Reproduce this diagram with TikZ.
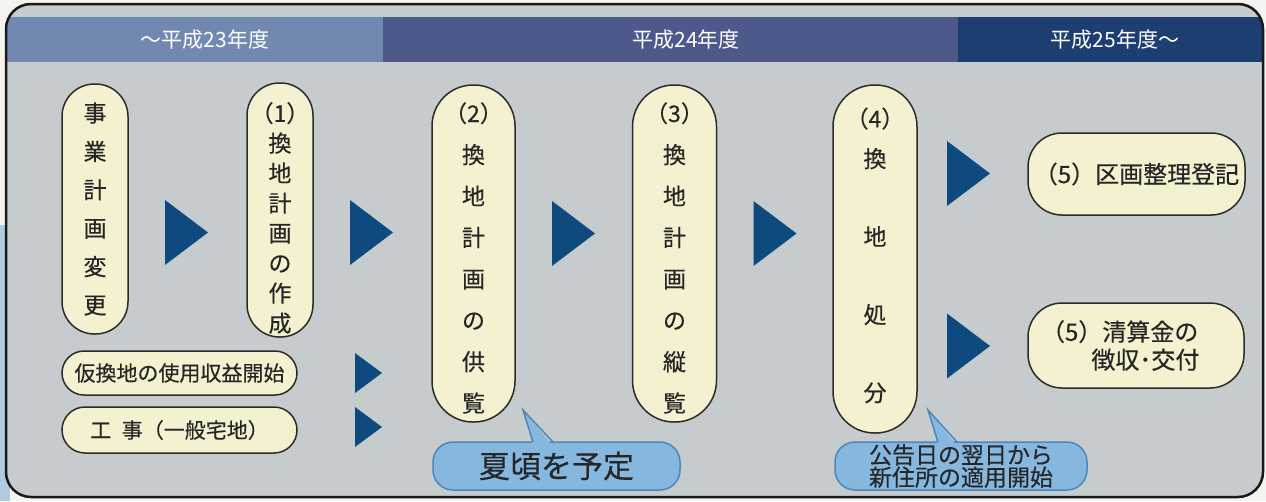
\documentclass[tikz,border=0pt]{standalone}
\usepackage{fontspec}
\newfontfamily\jp{Noto Sans CJK JP}[FakeBold=0.35]
\newfontfamily\jph{Noto Sans CJK JP}
\definecolor{paper}{HTML}{F4F4F1}
\definecolor{leftblue}{HTML}{AFCBDD}
\definecolor{bgC}{HTML}{C6CCCD}
\definecolor{hA}{HTML}{7189B1}
\definecolor{hB}{HTML}{4D598A}
\definecolor{hC}{HTML}{1D3E70}
\definecolor{pillC}{HTML}{F3F1CF}
\definecolor{lineC}{HTML}{2B2B2B}
\definecolor{txtC}{HTML}{262626}
\definecolor{arrowC}{HTML}{0E4A7E}
\definecolor{callC}{HTML}{86B7DE}
\definecolor{callL}{HTML}{4F86BA}
\tikzset{
  frame/.style={draw=black!90, line width=2.5pt},
  pill/.style={draw=lineC, fill=pillC, line width=1.5pt, inner sep=0pt, text=txtC},
  vtext/.style={font=\jp\fontsize{23}{#1}\selectfont, text=txtC, align=center, inner sep=0pt},
  htext/.style={font=\jph\fontsize{21}{25}\selectfont, text=white, inner sep=0pt},
  callout/.style={draw=callL, fill=callC, line width=1.5pt, rounded corners=20, inner sep=0pt, text=txtC},
  bigtri/.pic={\fill[arrowC] (-21.5,-32.5) -- (21.5,0) -- (-21.5,32.5) -- cycle;},
  smalltri/.pic={\fill[arrowC] (-13.5,-20) -- (13.5,0) -- (-13.5,20) -- cycle;}
}
\begin{document}
\begin{tikzpicture}[x=1pt,y=-1pt]
\useasboundingbox (0,0) rectangle (1266,501);
\fill[paper] (0,0) rectangle (1266,501);
\fill[leftblue] (0,225) rectangle (10,501);
\fill[bgC, rounded corners=25] (6,4) rectangle (1263,497);
\begin{scope}
  \clip[rounded corners=25] (6,4) rectangle (1263,497);
  \fill[hA] (0,17) rectangle (383,62);
  \fill[hB] (383,17) rectangle (958,62);
  \fill[hC] (958,17) rectangle (1266,62);
\end{scope}
\draw[frame, rounded corners=25] (6,4) rectangle (1263,497);

% header labels
\node[htext] (h1) at (205,40) {～平成23年度};
\node[htext] (h2) at (686,40) {平成24年度};
\node[htext] (h3) at (1115,40) {平成25年度～};

% vertical pills
\node[pill, minimum width=66, minimum height=250, rounded corners=32.5] (p0) at (95,209) {};
\node[vtext=38.4] (p0t) at (p0.center) {事\\業\\計\\画\\変\\更};

\node[pill, minimum width=66, minimum height=254, rounded corners=32.5] (p1) at (280,210) {};
\node[vtext=30] (p1t) at (280,218) {（1）\\換\\地\\計\\画\\の\\作\\成};

\node[pill, minimum width=83, minimum height=337, rounded corners=41] (p2) at (473.5,253.5) {};
\node[vtext=41.4] (p2t) at (473.5,258) {（2）\\換\\地\\計\\画\\の\\供\\覧};

\node[pill, minimum width=84, minimum height=337, rounded corners=41.5] (p3) at (674.5,253.5) {};
\node[vtext=41.4] (p3t) at (674.5,258) {（3）\\換\\地\\計\\画\\の\\縦\\覧};

\node[pill, minimum width=84, minimum height=348, rounded corners=41.5] (p4) at (875,259) {};
\node[vtext=40] (p4t) at (875,255.5) {（4）\\換\\[38pt]地\\[38pt]処\\[38pt]分};

% right pills
\node[pill, minimum width=217, minimum height=82, rounded corners=34,
      font=\jp\fontsize{24}{28}\selectfont] (p5) at (1136.5,174) {（5）区画整理登記};
\node[pill, minimum width=216, minimum height=85, rounded corners=34, align=left, text width=190,
      font=\jp\fontsize{24}{28}\selectfont] (p6) at (1136,345.5) {（5）清算金の\\\hspace*{2.1em}徴収･交付};

% bottom-left pills
\node[pill, minimum width=235, minimum height=44, rounded corners=22,
      font=\jp\fontsize{21}{25}\selectfont] (p7) at (179.5,373) {仮換地の使用収益開始};
\node[pill, minimum width=235, minimum height=46, rounded corners=23,
      font=\jp\fontsize{21}{25}\selectfont] (p8) at (179.5,430) {工\hspace{0.5em}事（一般宅地）};

% triangles
\pic at (186.5,232.5) {bigtri};
\pic at (371.5,232.5) {bigtri};
\pic at (573.5,233.5) {bigtri};
\pic at (775,233.5) {bigtri};
\pic at (968.5,173.5) {bigtri};
\pic at (968.5,346) {bigtri};
\pic at (368.5,373) {smalltri};
\pic at (368.5,427) {smalltri};

% callouts
\node[callout, minimum width=247, minimum height=48, font=\jp\fontsize{31}{34}\selectfont] (c1) at (556.5,466) {夏頃を予定};
\coordinate (c1tip) at (523,410);
\fill[callC] ([xshift=-23.5pt,yshift=-5pt]c1.north) -- (c1tip) -- ([xshift=-3.5pt,yshift=-5pt]c1.north) -- cycle;
\draw[callL, line width=1.5pt] ([xshift=-23.5pt,yshift=-0.8pt]c1.north) -- (c1tip) -- ([xshift=-3.5pt,yshift=-0.8pt]c1.north);

\node[callout, minimum width=252, minimum height=48, align=center, font=\jp\fontsize{23}{20}\selectfont] (c2) at (961,466) {公告日の翌日から\\新住所の適用開始};
\coordinate (c2tip) at (928,410);
\fill[callC] ([xshift=-23pt,yshift=-5pt]c2.north) -- (c2tip) -- ([xshift=-4pt,yshift=-5pt]c2.north) -- cycle;
\draw[callL, line width=1.5pt] ([xshift=-23pt,yshift=-0.8pt]c2.north) -- (c2tip) -- ([xshift=-4pt,yshift=-0.8pt]c2.north);
\end{tikzpicture}
\end{document}
